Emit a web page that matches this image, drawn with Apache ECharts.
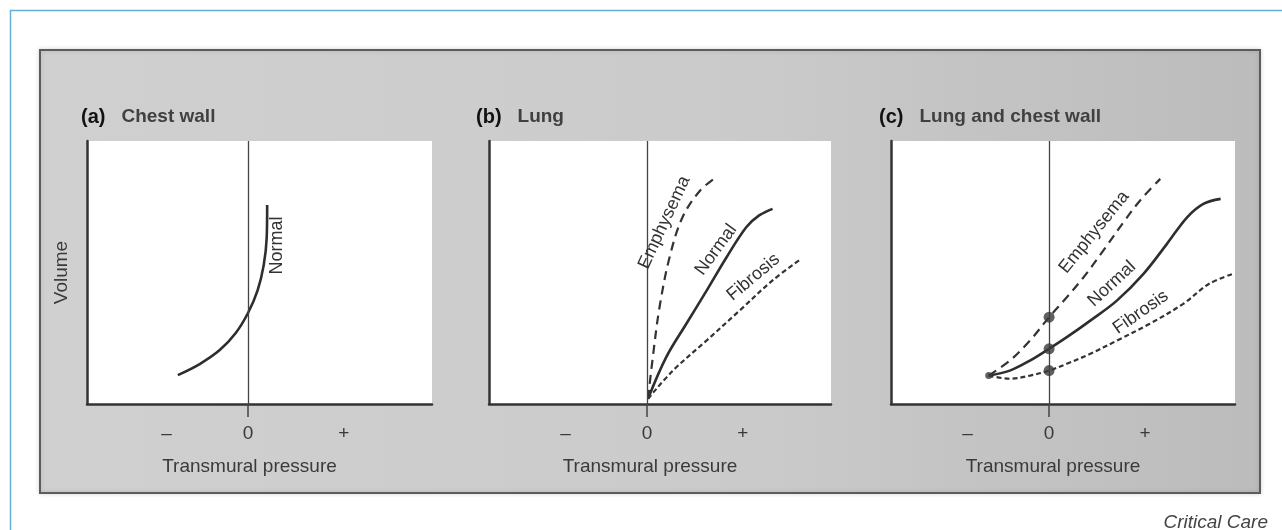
<!DOCTYPE html>
<html>
<head>
<meta charset="utf-8">
<script src="https://cdn.jsdelivr.net/npm/echarts@6/dist/echarts.min.js"></script>
<style>
  html, body { margin: 0; padding: 0; background: #fff; }
  #chart { width: 1282px; height: 530px; }
</style>
</head>
<body>
<div id="chart"></div>
<script>
// tick marks on the pressure axis
var pressureTicks = [-0.85, 0, 1.0];
var pressureTickText = ['\u2013', '0', '+'];

// (a) chest wall : [pressure, volume]
var chestNormal = [[-0.732, 0.11], [-0.504, 0.152], [-0.295, 0.205], [-0.128, 0.27], [0, 0.346],
    [0.101, 0.433], [0.164, 0.528], [0.195, 0.631], [0.2, 0.757]];

// (b) lung
var lungEmphysema = [[0.01, 0.02], [0.06, 0.178], [0.13, 0.368], [0.235, 0.558], [0.37, 0.71],
    [0.55, 0.81], [0.72, 0.862]];
var lungNormal = [[0.01, 0.02], [0.2, 0.178], [0.41, 0.305], [0.62, 0.43], [0.83, 0.558],
    [1.035, 0.672], [1.17, 0.717], [1.31, 0.742]];
var lungFibrosis = [[0.01, 0.02], [0.27, 0.127], [0.62, 0.241], [0.965, 0.355], [1.31, 0.47],
    [1.61, 0.552]];

// (c) lung and chest wall
var totalEmphysema = [[-0.63, 0.108], [-0.41, 0.165], [-0.2, 0.241], [0, 0.33], [0.185, 0.406],
    [0.36, 0.482], [0.567, 0.584], [0.776, 0.691], [0.95, 0.774], [1.16, 0.856]];
var totalNormal = [[-0.63, 0.108], [-0.41, 0.127], [-0.2, 0.165], [0, 0.21], [0.185, 0.254],
    [0.43, 0.317], [0.707, 0.393], [0.985, 0.495], [1.23, 0.609], [1.44, 0.71], [1.61, 0.761],
    [1.79, 0.78]];
var totalFibrosis = [[-0.63, 0.108], [-0.41, 0.096], [-0.2, 0.108], [0, 0.127], [0.185, 0.153],
    [0.43, 0.191], [0.707, 0.241], [1.05, 0.305], [1.4, 0.381], [1.67, 0.457], [1.92, 0.495]];
// resting points at zero pressure
var totalDots = [[0, 0.33], [0, 0.21], [0, 0.127]];
var totalStart = [[-0.63, 0.108]];

var FONT = "'Liberation Sans', Arial, sans-serif";
var INK = '#2e2e2e';

var chart = echarts.init(document.getElementById('chart'));

function xAxisFor(i, min, max) {
    return {
        type: 'value', gridIndex: i, min: min, max: max,
        name: 'Transmural pressure', nameLocation: 'middle', nameGap: 53,
        nameTextStyle: { fontFamily: FONT, fontSize: 19, color: '#3a3a3a', padding: [0, 20, 0, 0] },
        axisLine: { onZero: false, lineStyle: { color: '#333', width: 2.5 } },
        axisTick: { show: true, customValues: [0], length: 13, lineStyle: { color: '#444', width: 1.5 } },
        axisLabel: {
            customValues: pressureTicks, margin: 20,
            fontFamily: FONT, fontSize: 19, color: '#3a3a3a',
            formatter: function (v) {
                var k = pressureTicks.indexOf(v);
                return k >= 0 ? pressureTickText[k] : '';
            }
        },
        splitLine: { show: false }
    };
}
function yAxisFor(i, named) {
    return {
        type: 'value', gridIndex: i, min: 0, max: 1,
        name: named ? 'Volume' : '', nameLocation: 'middle', nameGap: 16, nameRotate: 90,
        nameTextStyle: { fontFamily: FONT, fontSize: 19, color: '#3a3a3a' },
        axisLine: { show: true, onZero: false, lineStyle: { color: '#333', width: 2.5 } },
        axisTick: { show: false }, axisLabel: { show: false }, splitLine: { show: false }
    };
}
function zeroLine() {
    return {
        silent: true, symbol: 'none', label: { show: false },
        lineStyle: { color: '#444', width: 1.3, type: 'solid' },
        data: [{ xAxis: 0 }]
    };
}
function curve(i, data, kind, withZero) {
    var s = {
        type: 'line', xAxisIndex: i, yAxisIndex: i, data: data,
        smooth: 0.35, showSymbol: false, silent: true,
        lineStyle: { color: INK, width: 2.6 }
    };
    if (kind === 'long') s.lineStyle = { color: '#333', width: 2.2, type: [9, 6] };
    if (kind === 'short') s.lineStyle = { color: '#333', width: 2.2, type: [5, 3] };
    if (withZero) s.markLine = zeroLine();
    return s;
}
function panelTitle(tag, text, left) {
    return {
        left: left, top: 107, padding: 0,
        text: '{p|' + tag + '}{t|' + text + '}',
        textStyle: {
            rich: {
                p: { fontFamily: FONT, fontSize: 20, fontWeight: 'bold', color: '#111', padding: [0, 16, 0, 0] },
                t: { fontFamily: FONT, fontSize: 19, fontWeight: 'bold', color: '#404040' }
            }
        }
    };
}

var panelBg = new echarts.graphic.LinearGradient(0, 0, 1, 0, [
    { offset: 0, color: '#d0d0d0' }, { offset: 0.55, color: '#cbcbcb' }, { offset: 1, color: '#bcbcbc' }
]);

chart.setOption({
    animation: false,
    backgroundColor: '#fff',
    title: [
        panelTitle('(a)', 'Chest wall', 81),
        panelTitle('(b)', 'Lung', 476),
        panelTitle('(c)', 'Lung and chest wall', 879)
    ],
    grid: [
        { left: 87, top: 141, width: 345, height: 263, show: true, backgroundColor: '#fff', borderWidth: 0 },
        { left: 489, top: 141, width: 342, height: 263, show: true, backgroundColor: '#fff', borderWidth: 0 },
        { left: 891, top: 141, width: 344, height: 263, show: true, backgroundColor: '#fff', borderWidth: 0 }
    ],
    xAxis: [xAxisFor(0, -1.68, 1.92), xAxisFor(1, -1.65, 1.92), xAxisFor(2, -1.65, 1.94)],
    yAxis: [yAxisFor(0, true), yAxisFor(1, false), yAxisFor(2, false)],
    series: [
        curve(0, chestNormal, 'solid', true),
        curve(1, lungNormal, 'solid', true),
        curve(1, lungEmphysema, 'long', false),
        curve(1, lungFibrosis, 'short', false),
        curve(2, totalNormal, 'solid', true),
        curve(2, totalEmphysema, 'long', false),
        curve(2, totalFibrosis, 'short', false),
        { type: 'scatter', xAxisIndex: 2, yAxisIndex: 2, data: totalDots, symbolSize: 11, silent: true,
          itemStyle: { color: '#3a3a3a' }, z: 5 },
        { type: 'scatter', xAxisIndex: 2, yAxisIndex: 2, data: totalStart, symbolSize: 7, silent: true,
          itemStyle: { color: '#3a3a3a' }, z: 5 }
    ],
    graphic: [
        { id: 'frame', type: 'rect', z: -20, silent: true,
          shape: { x: 10.5, y: 10.5, width: 1400, height: 700 },
          style: { fill: null, stroke: '#62b2d6', lineWidth: 1.5 } },
        { id: 'panel', type: 'rect', z: -10, silent: true,
          shape: { x: 40, y: 50, width: 1220, height: 443 },
          style: { fill: panelBg, stroke: '#5c5c5c', lineWidth: 2,
                   shadowBlur: 4, shadowColor: 'rgba(0,0,0,0.15)' } },
        { id: 'credit', type: 'text', z: 10, silent: true, x: 1268, y: 523,
          style: { text: 'Critical Care', fontFamily: FONT, fontSize: 19, fontStyle: 'italic',
                   fill: '#444', align: 'right', verticalAlign: 'middle' } }
    ]
});

// curve names, anchored in data units and turned along each curve
var curveLabels = [
    { grid: 0, text: 'Normal', at: [0.30, 0.603], angle: 90 },
    { grid: 1, text: 'Emphysema', at: [0.18, 0.69], angle: 65 },
    { grid: 1, text: 'Normal', at: [0.72, 0.586], angle: 54 },
    { grid: 1, text: 'Fibrosis', at: [1.11, 0.482], angle: 40 },
    { grid: 2, text: 'Emphysema', at: [0.47, 0.653], angle: 51 },
    { grid: 2, text: 'Normal', at: [0.655, 0.457], angle: 43 },
    { grid: 2, text: 'Fibrosis', at: [0.957, 0.349], angle: 35 }
];
var labelEls = curveLabels.map(function (l, k) {
    var p = chart.convertToPixel({ gridIndex: l.grid }, l.at);
    return {
        id: 'lbl' + k, type: 'text', z: 20, silent: true,
        x: p[0], y: p[1], rotation: l.angle * Math.PI / 180,
        style: { text: l.text, fontFamily: FONT, fontSize: 18, fill: '#333',
                 align: 'center', verticalAlign: 'middle' }
    };
});
chart.setOption({ graphic: labelEls });
</script>
</body>
</html>
